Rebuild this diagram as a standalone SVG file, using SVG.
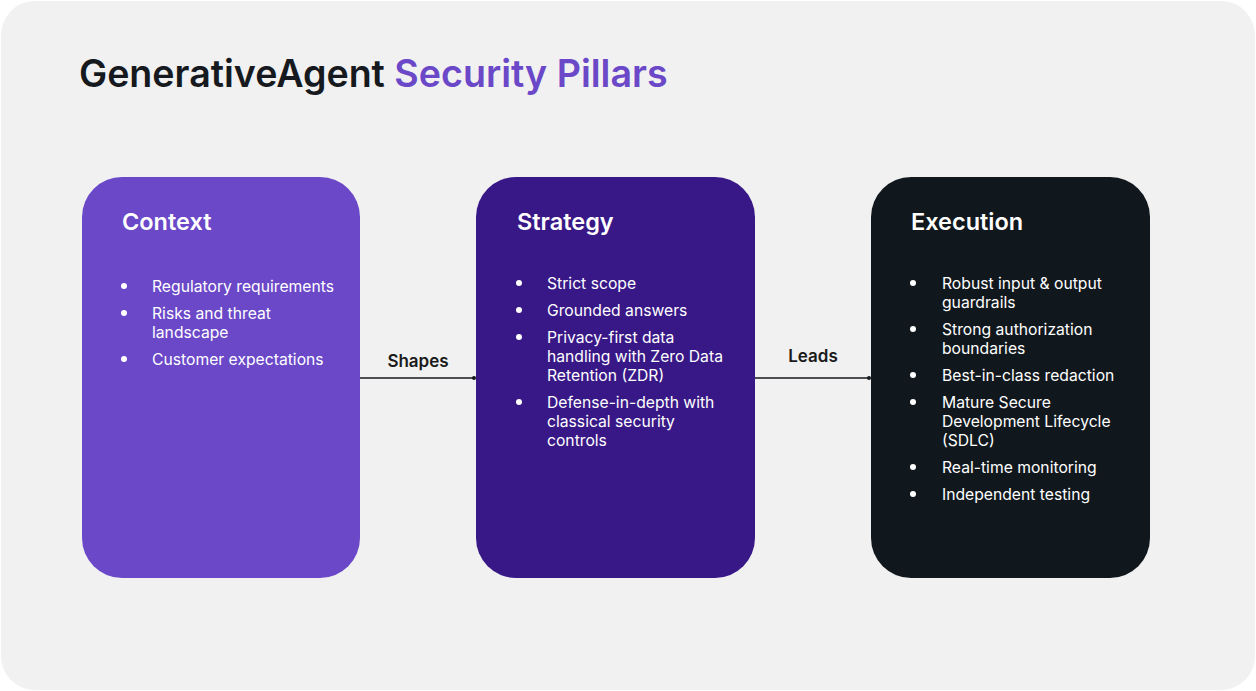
<svg xmlns="http://www.w3.org/2000/svg" width="1256" height="691" viewBox="0 0 1256 691">
<style>
.t{font-family:Inter,"Liberation Sans",sans-serif}
.h{font-size:23.5px;font-weight:600;fill:#fff}
.b{font-size:15.7px;fill:#fff}
.bl{fill:#fff}
.l{font-size:17px;font-weight:600;fill:#1a1a1a}
</style>
<rect x="1" y="1" width="1254" height="689" rx="34" fill="#f1f1f1"/>
<text class="t" x="79" y="87" font-size="37.6" font-weight="600" fill="#16191d">GenerativeAgent <tspan fill="#6a48c8">Security Pillars</tspan></text>
<g id="connectors" stroke="#16191d" stroke-width="1.3" fill="#16191d">
<line x1="360" y1="378" x2="475" y2="378"/><circle cx="474" cy="378" r="2" stroke="none"/>
<line x1="755" y1="378" x2="870" y2="378"/><circle cx="869" cy="378" r="2" stroke="none"/>
<text class="t l" x="418" y="367" text-anchor="middle" stroke="none">Shapes</text>
<text class="t l" x="813" y="362" text-anchor="middle" stroke="none">Leads</text>
</g>
<g id="context">
<rect x="82" y="177" width="278" height="401" rx="40" fill="#6a48c8"/>
<text class="t h" x="122" y="230">Context</text>
<g class="t b">
<circle class="bl" cx="124" cy="286" r="3"/><text x="152" y="292">Regulatory requirements</text>
<circle class="bl" cx="124" cy="313" r="3"/><text x="152" y="319">Risks and threat</text><text x="152" y="338">landscape</text>
<circle class="bl" cx="124" cy="359" r="3"/><text x="152" y="365">Customer expectations</text>
</g></g>
<g id="strategy">
<rect x="476" y="177" width="279" height="401" rx="40" fill="#381887"/>
<text class="t h" x="517" y="230">Strategy</text>
<g class="t b">
<circle class="bl" cx="519" cy="283" r="3"/><text x="547" y="289">Strict scope</text>
<circle class="bl" cx="519" cy="310" r="3"/><text x="547" y="316">Grounded answers</text>
<circle class="bl" cx="519" cy="337" r="3"/><text x="547" y="343">Privacy-first data</text><text x="547" y="362">handling with Zero Data</text><text x="547" y="381">Retention (ZDR)</text>
<circle class="bl" cx="519" cy="402" r="3"/><text x="547" y="408">Defense-in-depth with</text><text x="547" y="427">classical security</text><text x="547" y="446">controls</text>
</g></g>
<g id="execution">
<rect x="871" y="177" width="279" height="401" rx="40" fill="#11181d"/>
<text class="t h" x="911" y="230">Execution</text>
<g class="t b">
<circle class="bl" cx="913" cy="283" r="3"/><text x="942" y="289">Robust input &amp; output</text><text x="942" y="308">guardrails</text>
<circle class="bl" cx="913" cy="329" r="3"/><text x="942" y="335">Strong authorization</text><text x="942" y="354">boundaries</text>
<circle class="bl" cx="913" cy="375" r="3"/><text x="942" y="381">Best-in-class redaction</text>
<circle class="bl" cx="913" cy="402" r="3"/><text x="942" y="408">Mature Secure</text><text x="942" y="427">Development Lifecycle</text><text x="942" y="446">(SDLC)</text>
<circle class="bl" cx="913" cy="467" r="3"/><text x="942" y="473">Real-time monitoring</text>
<circle class="bl" cx="913" cy="494" r="3"/><text x="942" y="500">Independent testing</text>
</g></g>
</svg>
